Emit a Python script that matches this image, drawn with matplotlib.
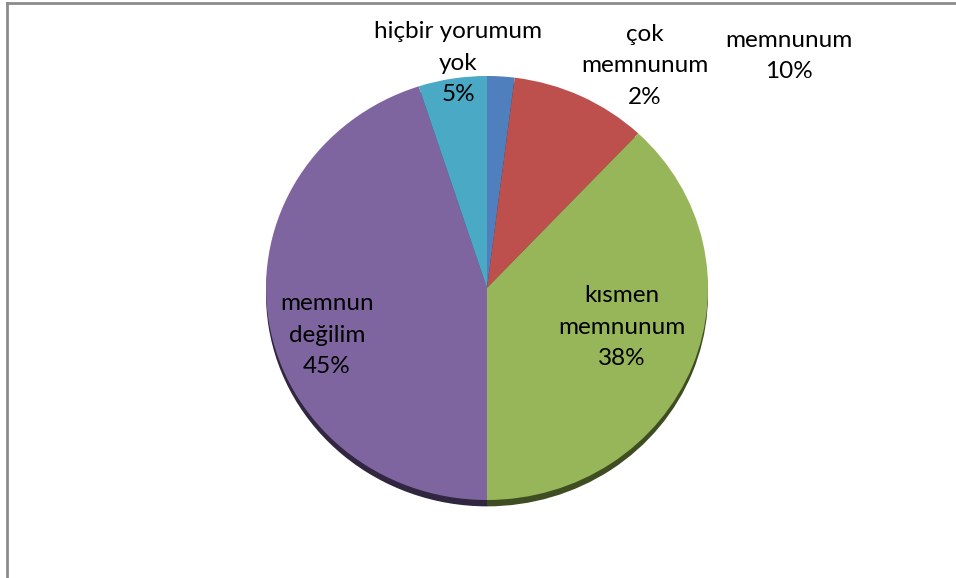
import matplotlib
matplotlib.use("Agg")
import matplotlib.pyplot as plt
from matplotlib.lines import Line2D

# survey answers, clockwise from 12 o'clock
categories = ["çok\nmemnunum", "memnunum", "kısmen\nmemnunum",
              "memnun\ndeğilim", "hiçbir yorumum\nyok"]
values = [2, 10, 38, 45, 5]
colors = ["#4f7fbc", "#bd504c", "#97b65a", "#7f65a0", "#4aa9c4"]
shadow_colors = ["#27405e", "#5e2826", "#3f4d22", "#30263f", "#255562"]

# label centres in pixels (x, y from top), same order as categories
label_pos = [(645, 66), (789, 56), (622, 327), (327, 335), (458, 63)]

W, H = 956, 578
fig = plt.figure(figsize=(W / 100, H / 100), dpi=100)

cx, cy, rx, ry = 487, 288, 221, 212
ax = fig.add_axes([(cx - rx) / W, (H - cy - ry) / H, 2 * rx / W, 2 * ry / H])
ax.axis("off")

# 3d-ish rim under the pie
sh, _ = ax.pie(values, colors=shadow_colors, startangle=90, counterclock=False,
               radius=1.0, center=(0, -0.03), frame=False,
               wedgeprops=dict(linewidth=0))
for w in sh:
    w.set_clip_on(False)
    w.set_zorder(1)

wedges, _ = ax.pie(values, colors=colors, startangle=90, counterclock=False,
                   radius=1.0, frame=False, wedgeprops=dict(linewidth=0))
for w in wedges:
    w.set_clip_on(False)
    w.set_zorder(2)
ax.set_xlim(-1, 1)
ax.set_ylim(-1, 1)
ax.set_aspect("auto")

for cat, v, (px, py) in zip(categories, values, label_pos):
    fig.text(px / W, 1 - py / H, f"{cat}\n{v}%", ha="center", va="center",
             fontsize=17.5, family="Lato", linespacing=1.6, color="black",
             zorder=5)

# chart frame (top and left edges only visible)
fig.add_artist(Line2D([7 / W, 1], [1 - 3 / H, 1 - 3 / H], color="#8c8c8c", lw=2))
fig.add_artist(Line2D([7 / W, 7 / W], [0, 1 - 3 / H], color="#8c8c8c", lw=2))

fig.savefig("out.png", dpi=100)
